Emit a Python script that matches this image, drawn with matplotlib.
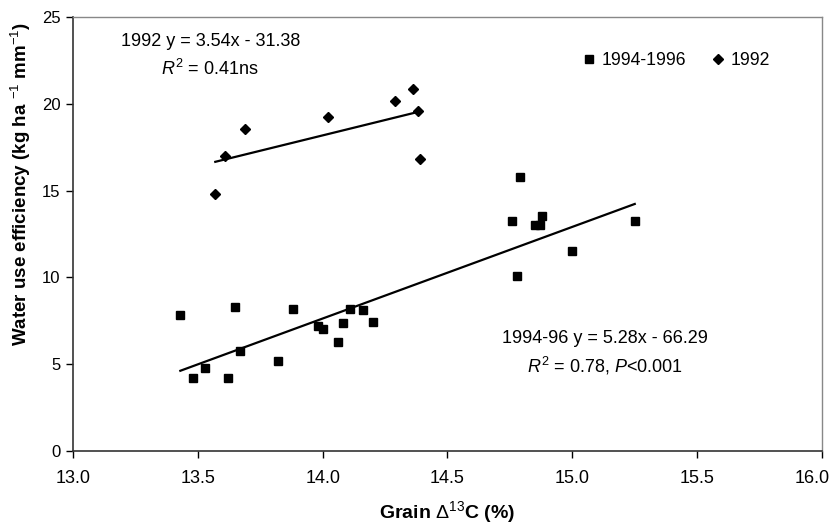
import numpy as np
import matplotlib
matplotlib.use("Agg")
import matplotlib.pyplot as plt
import matplotlib.transforms as mtransforms

plt.rcParams["font.family"] = ["Liberation Sans", "DejaVu Sans"]
plt.rcParams["mathtext.fontset"] = "custom"
plt.rcParams["mathtext.rm"] = "Liberation Sans"
plt.rcParams["mathtext.it"] = "Liberation Sans:italic"
plt.rcParams["mathtext.bf"] = "Liberation Sans:bold"

# 1994-1996 (squares)
x_9496 = [13.43, 13.48, 13.53, 13.62, 13.65, 13.67, 13.82, 13.88, 13.98, 14.0,
          14.06, 14.08, 14.11, 14.16, 14.20, 14.76, 14.78, 14.79, 14.85, 14.87,
          14.88, 15.00, 15.25]
y_9496 = [7.85, 4.19, 4.8, 4.19, 8.28, 5.76, 5.18, 8.18, 7.22, 7.03,
          6.26, 7.35, 8.18, 8.12, 7.45, 13.27, 10.1, 15.77, 13.02, 13.02,
          13.54, 11.52, 13.27]

# 1992 (diamonds)
x_92 = [13.57, 13.61, 13.69, 14.02, 14.29, 14.36, 14.38, 14.39]
y_92 = [14.79, 17.0, 18.53, 19.26, 20.18, 20.85, 19.6, 16.84]

# regression coefficients from the chart text
fit_9496 = (5.28, -66.29)
fit_92 = (3.54, -31.38)

fig = plt.figure(figsize=(8.32, 5.25), dpi=100)
ax = fig.add_axes([0.0877, 0.141, 0.9003, 0.8266])

ax.plot(x_9496, y_9496, "s", color="black", markersize=5.8, label="1994-1996",
        linestyle="none")
ax.plot(x_92, y_92, "D", color="black", markersize=5, label="1992",
        linestyle="none")

xl = np.array([min(x_9496), max(x_9496)])
ax.plot(xl, fit_9496[0] * xl + fit_9496[1], color="black", lw=1.6)
xl = np.array([min(x_92), max(x_92)])
ax.plot(xl, fit_92[0] * xl + fit_92[1], color="black", lw=1.6)

ax.set_xlim(13.0, 16.0)
ax.set_ylim(0, 25)
ax.set_xticks(np.arange(13.0, 16.01, 0.5))
ax.set_xticklabels([f"{v:.1f}" for v in np.arange(13.0, 16.01, 0.5)])
ax.set_yticks(range(0, 26, 5))
ax.tick_params(axis="both", direction="out", length=5, width=1)
ax.tick_params(axis="x", labelsize=13, pad=8.5)
ax.tick_params(axis="y", labelsize=12, pad=4)

# last x label sits against the image edge in the original, nudge it in
last = ax.get_xticklabels()[-1]
last.set_transform(last.get_transform() +
                   mtransforms.ScaledTranslation(-0.1, 0, fig.dpi_scale_trans))

for side in ["left", "bottom"]:
    ax.spines[side].set_color("#333333")
    ax.spines[side].set_linewidth(1.2)
for side in ["top", "right"]:
    ax.spines[side].set_color("#888888")
    ax.spines[side].set_linewidth(1.0)

ax.set_xlabel(r"Grain $\Delta^{13}$C (%)", fontsize=14, fontweight="bold")
ax.set_ylabel(r"Water use efficiency (kg ha $^{-1}$ mm$^{-1}$)", fontsize=13.5,
              fontweight="bold")
ax.xaxis.set_label_coords(0.5, -0.111)
ax.yaxis.set_label_coords(-0.053, 0.615)

ax.text(13.55, 23.6, "1992 y = 3.54x - 31.38", ha="center", va="center",
        fontsize=13)
ax.text(13.55, 22.0, r"$R^2$ = 0.41ns", ha="center", va="center",
        fontsize=13)
ax.text(15.13, 6.5, "1994-96 y = 5.28x - 66.29", ha="center", va="center",
        fontsize=13)
ax.text(15.13, 4.9, r"$R^2$ = 0.78, $P$<0.001", ha="center", va="center",
        fontsize=13)

ax.legend(loc="upper right", bbox_to_anchor=(0.952, 0.955), ncol=2,
          frameon=False, fontsize=12.7, handletextpad=0.2, columnspacing=1.35,
          handlelength=1.0)

fig.savefig("out.png", dpi=100)
